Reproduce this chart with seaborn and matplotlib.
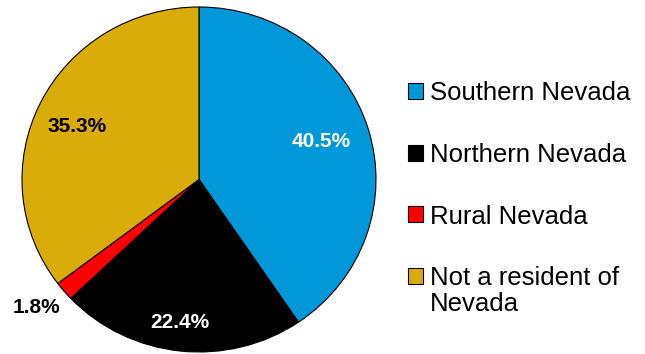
import numpy as np
import matplotlib.pyplot as plt
import seaborn as sns

# Residence of respondents
regions = ['Southern Nevada', 'Northern Nevada', 'Rural Nevada', 'Not a resident of\nNevada']
shares = [40.5, 22.4, 1.8, 35.3]
colors = ['#0098D8', '#000000', '#FF0000', '#D9AC0A']
label_colors = ['white', 'white', 'black', 'black']

# where each percent label sits: (radius, angle offset from wedge middle)
label_pos = [(0.725, 0.8), (0.836, -1.3), (1.183, -1.4), (0.756, 2.3)]

sns.set_style('white')
plt.rcParams['font.family'] = ['Liberation Sans', 'DejaVu Sans']

fig = plt.figure(figsize=(6.45, 3.54), dpi=100)
ax = fig.add_axes([22 / 645, 2 / 354, 354 / 645, 345 / 354])

wedges, _ = ax.pie(shares, colors=colors, startangle=90, counterclock=False,
                   wedgeprops=dict(edgecolor='black', linewidth=0.8))

for w, val, c, (r, off) in zip(wedges, shares, label_colors, label_pos):
    ang = np.deg2rad((w.theta1 + w.theta2) / 2 + off)
    ax.text(r * np.cos(ang), r * np.sin(ang), f'{val:.1f}%', color=c,
            fontsize=15, fontweight='bold', ha='center', va='center')

ax.set_aspect('auto')
ax.set_xlim(-1.0, 1.0)
ax.set_ylim(-1.0, 1.0)

# legend: first line of each label in the legend, wrapped remainder added below
first_lines = [r.split('\n')[0] for r in regions]
leg = fig.legend(wedges, first_lines, loc='upper left',
                 bbox_to_anchor=(408 / 645, 1 - 81 / 354),
                 frameon=False, fontsize=18.5, handlelength=0.58, handleheight=0.58,
                 handletextpad=0.27, labelspacing=1.47, borderaxespad=0, borderpad=0,
                 labelcolor='black')

fig.canvas.draw()
for txt, full in zip(leg.get_texts(), regions):
    rest = full.split('\n')[1:]
    if rest:
        bb = txt.get_window_extent()
        fig.text(bb.x0 / 645, (bb.y0 - 26) / 354, '\n'.join(rest),
                 fontsize=18.5, color='black', ha='left', va='bottom')

fig.savefig('out.png', dpi=100)
